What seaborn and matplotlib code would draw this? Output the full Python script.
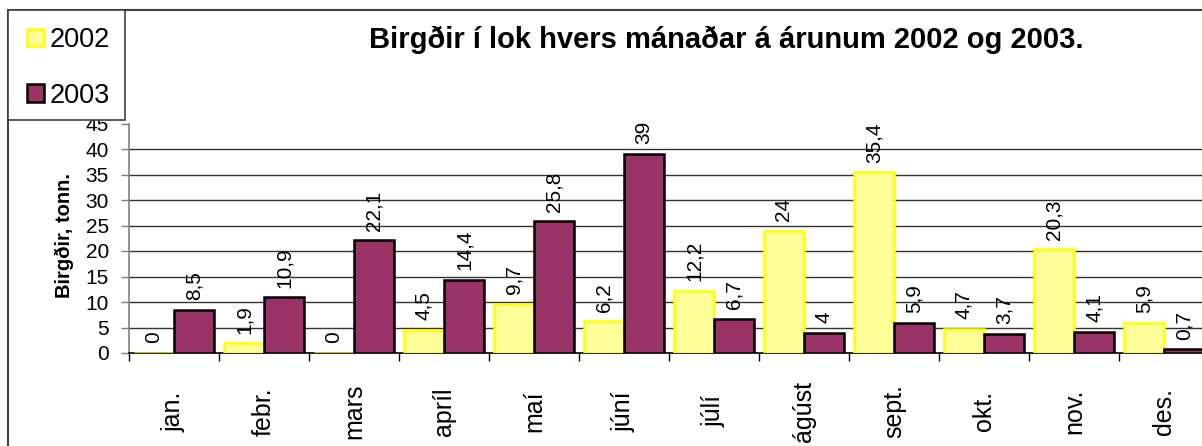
import pandas as pd
import seaborn as sns
import matplotlib.pyplot as plt
from matplotlib.patches import Patch, Rectangle
from matplotlib.lines import Line2D

# Chart data
months = ["jan.", "febr.", "mars", "apríl", "maí", "júní",
          "júlí", "ágúst", "sept.", "okt.", "nov.", "des."]
years = ["2002", "2003"]
stock_2002 = [0, 1.9, 0, 4.5, 9.7, 6.2, 12.2, 24, 35.4, 4.7, 20.3, 5.9]
stock_2003 = [8.5, 10.9, 22.1, 14.4, 25.8, 39, 6.7, 4, 5.9, 3.7, 4.1, 0.7]

face_colors = {"2002": "#FFFF99", "2003": "#993366"}
edge_colors = {"2002": "#FFFF00", "2003": "#000000"}

df = pd.DataFrame({
    "month": months * 2,
    "value": stock_2002 + stock_2003,
    "year": ["2002"] * len(months) + ["2003"] * len(months),
})

sns.set_theme(style="white")
plt.rcParams["font.family"] = ["Liberation Sans", "DejaVu Sans"]
plt.rcParams["text.color"] = "black"
plt.rcParams["xtick.labelcolor"] = "black"
plt.rcParams["ytick.labelcolor"] = "black"

W, H = 1202, 446
fig = plt.figure(figsize=(W / 100, H / 100), dpi=100)
ax = fig.add_axes([129 / W, 93 / H, 1080 / W, 229.5 / H])

sns.barplot(data=df, x="month", y="value", hue="year", order=months,
            hue_order=years, palette=face_colors, saturation=1,
            width=0.89, gap=0, dodge=True, legend=False, ax=ax, zorder=3)

def fmt(v):
    return f"{v:g}".replace(".", ",")

for cont, yr in zip(ax.containers, years):
    for bar in cont:
        bar.set_edgecolor(edge_colors[yr])
        bar.set_linewidth(1.8)
    vals = stock_2002 if yr == "2002" else stock_2003
    ax.bar_label(cont, labels=[fmt(v) for v in vals], padding=7,
                 rotation=90, fontsize=15, color="black")

ax.set_ylim(0, 45)
ax.set_xlim(-0.5, len(months) - 0.5)
ax.set_yticks(range(0, 46, 5))
ax.tick_params(axis="y", which="major", length=6, width=1, color="#808080",
               labelsize=15, pad=8.5, direction="out", left=True,
               labelcolor="black")
ax.set_xticks(range(len(months)))
ax.set_xticklabels(months, rotation=90, va="center")
ax.set_xticks([i - 0.5 for i in range(len(months) + 1)], minor=True)
ax.tick_params(axis="x", which="major", length=0, labelsize=18, pad=42,
               labelcolor="black")
ax.tick_params(axis="x", which="minor", length=6, width=1, color="black",
               direction="out", bottom=True)
ax.set_xlabel("")
ax.set_ylabel("")

for v in range(5, 45, 5):
    ax.axhline(v, color="#333333", linewidth=1, zorder=1)

for side in ["top", "right"]:
    ax.spines[side].set_visible(False)
ax.spines["left"].set_color("#808080")
ax.spines["left"].set_linewidth(1.2)
ax.spines["bottom"].set_color("black")
ax.spines["bottom"].set_linewidth(1.2)

# Titles
fig.text(726 / W, 1 - 48.5 / H, "Birgðir í lok hvers mánaðar á árunum 2002 og 2003.",
         ha="center", va="baseline", fontsize=21, fontweight="bold", color="black")
fig.text(64 / W, 1 - 236 / H, "Birgðir, tonn.", rotation=90, ha="center",
         va="center", fontsize=14.5, fontweight="bold", color="black")

# Outer chart border (cropped on right and bottom)
fig.add_artist(Line2D([8 / W, 8 / W], [0, 1 - 10 / H], transform=fig.transFigure,
                      color="#404040", linewidth=1.5))
fig.add_artist(Line2D([8 / W, 1], [1 - 10 / H, 1 - 10 / H], transform=fig.transFigure,
                      color="#404040", linewidth=1.5))

# Legend box
fig.add_artist(Rectangle((8 / W, 1 - 120 / H), 117 / W, 110 / H,
                         transform=fig.transFigure, facecolor="white",
                         edgecolor="#404040", linewidth=1.2, zorder=5))
handles = [Patch(facecolor=face_colors[y], edgecolor=edge_colors[y], linewidth=1.8)
           for y in years]
leg = fig.legend(handles, years, loc="upper left",
                 bbox_to_anchor=(27 / W, 1 - 27 / H), frameon=False,
                 fontsize=19.5, handlelength=0.63, handleheight=0.63,
                 handletextpad=0.22, labelspacing=1.1, borderaxespad=0,
                 borderpad=0, labelcolor="black")
leg.set_zorder(6)

fig.savefig("out.png", dpi=100)
